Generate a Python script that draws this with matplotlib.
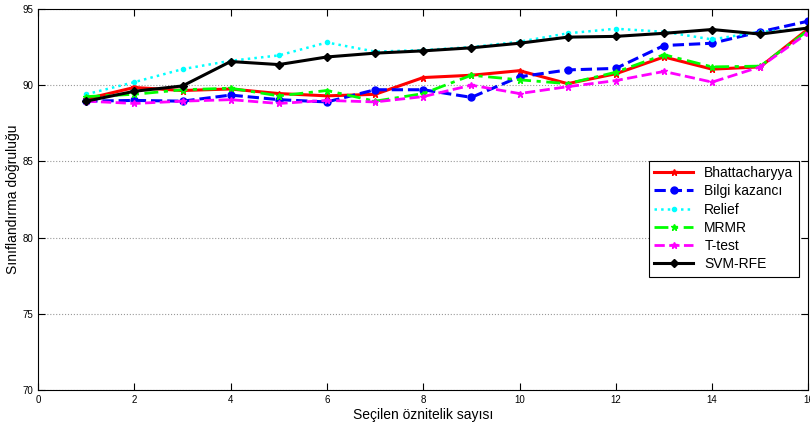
import matplotlib.pyplot as plt

plt.rcParams['font.family'] = ['Liberation Sans', 'DejaVu Sans']

features = list(range(1, 17))
bhattacharyya = [89.1, 89.85, 89.65, 89.75, 89.45, 89.3, 89.4, 90.5, 90.65, 90.95,
                 90.1, 90.75, 91.85, 91.05, 91.2, 93.7]
bilgi = [88.95, 89.0, 88.95, 89.35, 89.05, 88.9, 89.7, 89.7, 89.2, 90.55,
         91.0, 91.1, 92.6, 92.75, 93.5, 94.2]
relief = [89.4, 90.2, 91.05, 91.6, 91.95, 92.8, 92.2, 92.3, 92.5, 92.85,
          93.4, 93.7, 93.5, 93.0, 93.5, 93.7]
mrmr = [89.25, 89.4, 89.7, 89.8, 89.3, 89.65, 88.95, 89.45, 90.65, 90.35,
        90.1, 90.85, 92.0, 91.2, 91.25, 93.6]
ttest = [88.95, 88.8, 88.95, 89.05, 88.8, 89.0, 88.9, 89.25, 90.0, 89.45,
         89.9, 90.3, 90.9, 90.2, 91.2, 93.45]
svmrfe = [88.95, 89.6, 89.95, 91.55, 91.35, 91.85, 92.1, 92.25, 92.45, 92.75,
          93.15, 93.2, 93.4, 93.65, 93.35, 93.75]

fig = plt.figure(figsize=(8.1, 4.25), dpi=100)
ax = fig.add_axes([0.047, 0.082, 0.951, 0.897])

ax.plot(features, bhattacharyya, color='red', linestyle='-', linewidth=2.2,
        marker='*', markersize=5, label='Bhattacharyya')
ax.plot(features, bilgi, color='blue', linestyle='--', linewidth=2.2,
        marker='o', markersize=5, label='Bilgi kazancı')
ax.plot(features, relief, color='cyan', linestyle=':', linewidth=1.8,
        marker='.', markersize=6, label='Relief')
ax.plot(features, mrmr, color='lime', linestyle=(0, (5, 2, 1.5, 2)), linewidth=2.0,
        marker='*', markersize=5, label='MRMR')
ax.plot(features, ttest, color='magenta', linestyle='--', linewidth=2.0,
        marker='*', markersize=5, label='T-test')
ax.plot(features, svmrfe, color='black', linestyle='-', linewidth=2.2,
        marker='D', markersize=4, label='SVM-RFE')

ax.set_xlim(0, 16)
ax.set_ylim(70, 95)
ax.set_xticks(range(0, 17, 2))
ax.set_yticks(range(70, 96, 5))
ax.yaxis.grid(True, linestyle=':', color='#999999', linewidth=0.8)
ax.tick_params(direction='in', top=True, right=True, labelsize=7, length=5)
ax.set_xlabel('Seçilen öznitelik sayısı', fontsize=10, labelpad=2)
ax.set_ylabel('Sınıflandırma doğruluğu', fontsize=10, labelpad=2)

leg = ax.legend(loc='center right', bbox_to_anchor=(0.997, 0.45), fontsize=10,
                fancybox=False, edgecolor='black', framealpha=1,
                handlelength=2.8, borderpad=0.4, labelspacing=0.3)
leg.get_frame().set_linewidth(0.8)

plt.savefig('out.png', dpi=100)
plt.close()
